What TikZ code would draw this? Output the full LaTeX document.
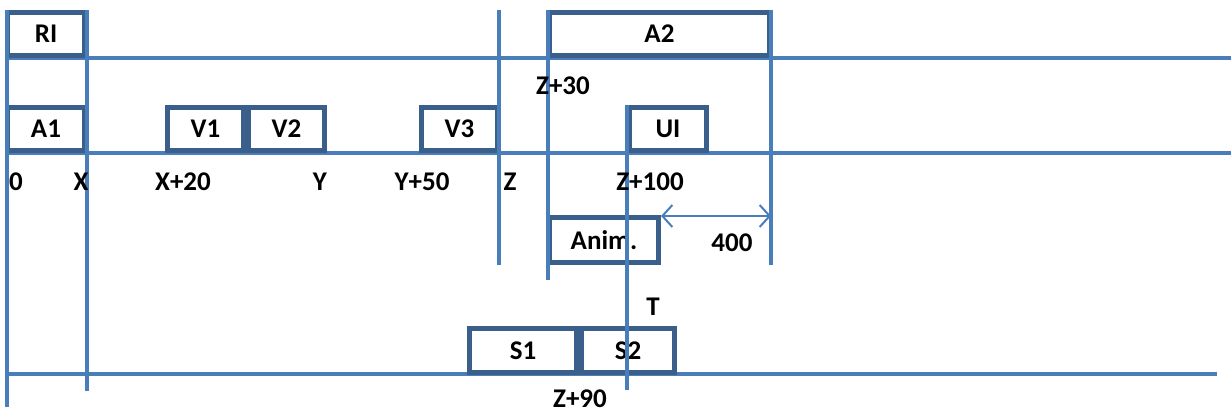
\documentclass[tikz,border=0pt]{standalone}
\usepackage{fontspec}
\setmainfont{Carlito}
\usetikzlibrary{arrows.meta}
\definecolor{lineblue}{HTML}{4A7EBB}
\definecolor{boxblue}{HTML}{3A5F8B}
\begin{document}
\begin{tikzpicture}[x=1pt,y=-1pt,
  font=\fontsize{27}{30}\selectfont\bfseries,
  guide/.style={draw=lineblue,line width=3.2pt},
  box/.style={draw=boxblue,line width=5pt,fill=white,inner sep=0pt,minimum height=43pt,text=black},
  lbl/.style={inner sep=0pt,text=black},
  dim/.style={draw=lineblue,line width=2pt,{Straight Barb[length=10pt,width=22pt]}-{Straight Barb[length=10pt,width=22pt]}}]
\useasboundingbox (0,0) rectangle (1231,413);
% horizontal guide lines
\coordinate (h1a) at (5,58);  \coordinate (h1b) at (1231,58);
\coordinate (h2a) at (5,153); \coordinate (h2b) at (1231,153);
\coordinate (h3a) at (7,374); \coordinate (h3b) at (1217,374);
\draw[guide] (h1a) -- (h1b);
\draw[guide] (h2a) -- (h2b);
\draw[guide] (h3a) -- (h3b);
% boxes
\node[box,minimum width=77pt] (ri) at (46,34) {RI};
\node[box,minimum width=77pt] (a1) at (46,129) {A1};
\node[box,minimum width=76pt] (v1) at (205.5,129) {V1};
\node[box,minimum width=76pt] (v2) at (286.5,129) {V2};
\node[box,minimum width=76pt] (v3) at (459.5,129) {V3};
\node[box,minimum width=220pt] (a2) at (659.5,34) {A2};
\node[box,minimum width=77pt] (ui) at (668,129) {UI};
\node[box,minimum width=109pt,minimum height=45pt] (anim) at (604,240) {Anim.};
\node[box,minimum width=107pt,minimum height=44pt] (s1) at (523,350.5) {S1};
\node[box,minimum width=93pt,minimum height=44pt] (s2) at (628,350.5) {S2};
% vertical guide lines
\coordinate (v0a) at (7,10);    \coordinate (v0b) at (7,407);
\coordinate (vxa) at (87,10);   \coordinate (vxb) at (87,391);
\coordinate (vza) at (499,10);  \coordinate (vzb) at (499,265);
\coordinate (vwa) at (548,10);  \coordinate (vwb) at (548,280);
\coordinate (vta) at (627,105); \coordinate (vtb) at (627,390);
\coordinate (vea) at (771,10);  \coordinate (veb) at (771,265);
\draw[guide] (v0a) -- (v0b);
\draw[guide] (vxa) -- (vxb);
\draw[guide] (vza) -- (vzb);
\draw[guide] (vwa) -- (vwb);
\draw[guide] (vta) -- (vtb);
\draw[guide] (vea) -- (veb);
% dimension arrow
\coordinate (da) at (661,216);
\coordinate (db) at (771,216);
\draw[dim] (da) -- (db);
% labels
\node[lbl] (l0) at (16,182) {0};
\node[lbl] (lx) at (81,182) {X};
\node[lbl] (lx20) at (183,182) {X+20};
\node[lbl] (ly) at (320,182) {Y};
\node[lbl] (ly50) at (422,182) {Y+50};
\node[lbl] (lz) at (510,182) {Z};
\node[lbl] (lz30) at (563,86) {Z+30};
\node[lbl] (lz100) at (650,182) {Z+100};
\node[lbl] (l400) at (732,243) {400};
\node[lbl] (lt) at (653,307) {T};
\node[lbl] (lz90) at (580,399) {Z+90};
\end{tikzpicture}
\end{document}
